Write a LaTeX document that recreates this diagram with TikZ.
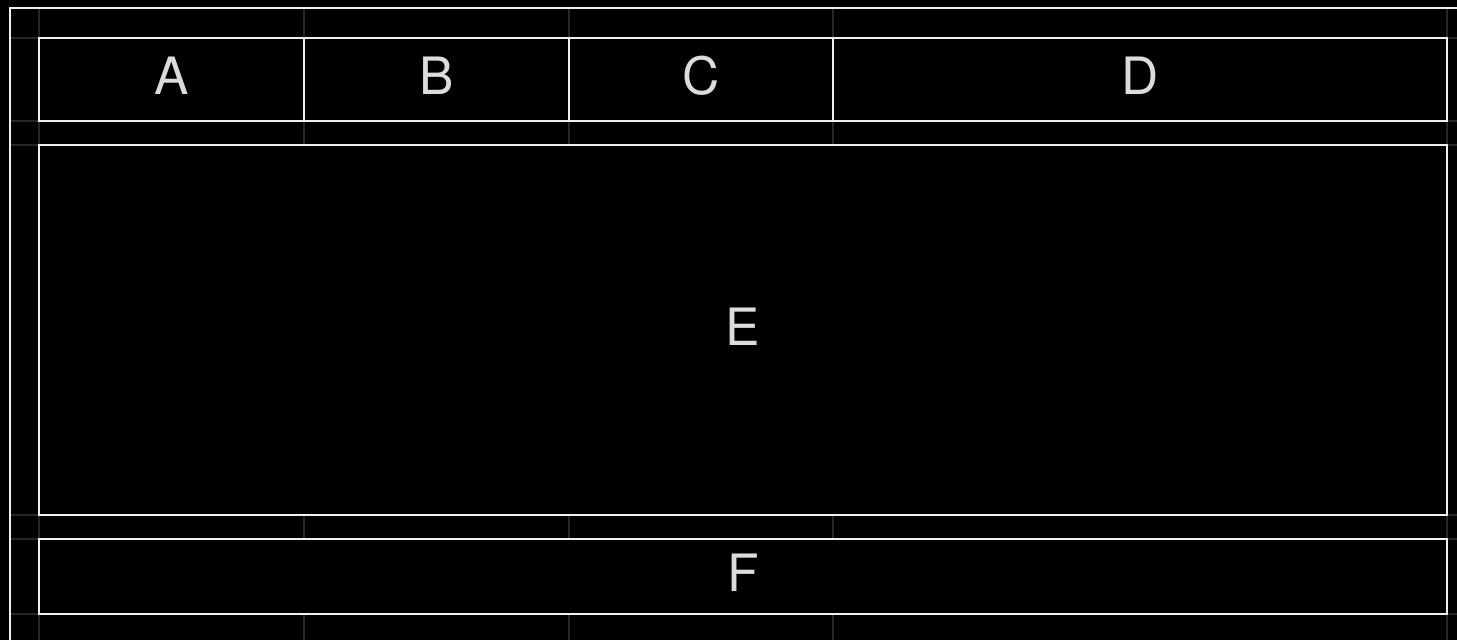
\documentclass[tikz,border=0pt]{standalone}
\usepackage{fontspec}
\setmainfont{TeX Gyre Heros}
\definecolor{bg}{HTML}{000000}
\definecolor{gridc}{HTML}{262626}
\definecolor{linec}{HTML}{F0F0F0}
\definecolor{txtc}{HTML}{DCDCDC}
\begin{document}
\begin{tikzpicture}[x=1pt,y=-1pt,
  box/.style={draw=linec, line width=2pt, inner sep=0pt, outer sep=0pt, fill=bg},
  lbl/.style={text=txtc, inner sep=0pt, font=\fontsize{51.5}{60}\selectfont},
  guide/.style={draw=gridc, line width=2pt}]
\fill[bg] (0,0) rectangle (1457,640);
\useasboundingbox (0,0) rectangle (1457,640);
\clip (0,0) rectangle (1457,640);
% guide lines
\foreach \gx in {39,304,569,833,1447} \draw[guide] (\gx,8) -- (\gx,650);
\foreach \gy in {38,121,145,515,539,614} \draw[guide] (10,\gy) -- (1470,\gy);
% outer frame
\draw[draw=linec, line width=2pt] (9.5,660) -- (9.5,7.5) -- (1480,7.5);
% boxes
\node[box, minimum width=265pt, minimum height=83pt] (A) at (171.5,79.5) {};
\node[box, minimum width=265pt, minimum height=83pt] (B) at (436.5,79.5) {};
\node[box, minimum width=264pt, minimum height=83pt] (C) at (701,79.5) {};
\node[box, minimum width=614pt, minimum height=83pt] (D) at (1140,79.5) {};
\node[box, minimum width=1408pt, minimum height=370pt] (E) at (743,330) {};
\node[box, minimum width=1408pt, minimum height=75pt] (F) at (743,576.5) {};
\node[lbl] (tA) at ([yshift=3.5pt]A.center) {A};
\node[lbl] (tB) at ([yshift=3.5pt]B.center) {B};
\node[lbl] (tC) at ([yshift=3.5pt]C.center) {C};
\node[lbl] (tD) at ([yshift=3.5pt]D.center) {D};
\node[lbl] (tE) at ([yshift=3.5pt]E.center) {E};
\node[lbl] (tF) at ([yshift=3.5pt]F.center) {F};
\end{tikzpicture}
\end{document}
